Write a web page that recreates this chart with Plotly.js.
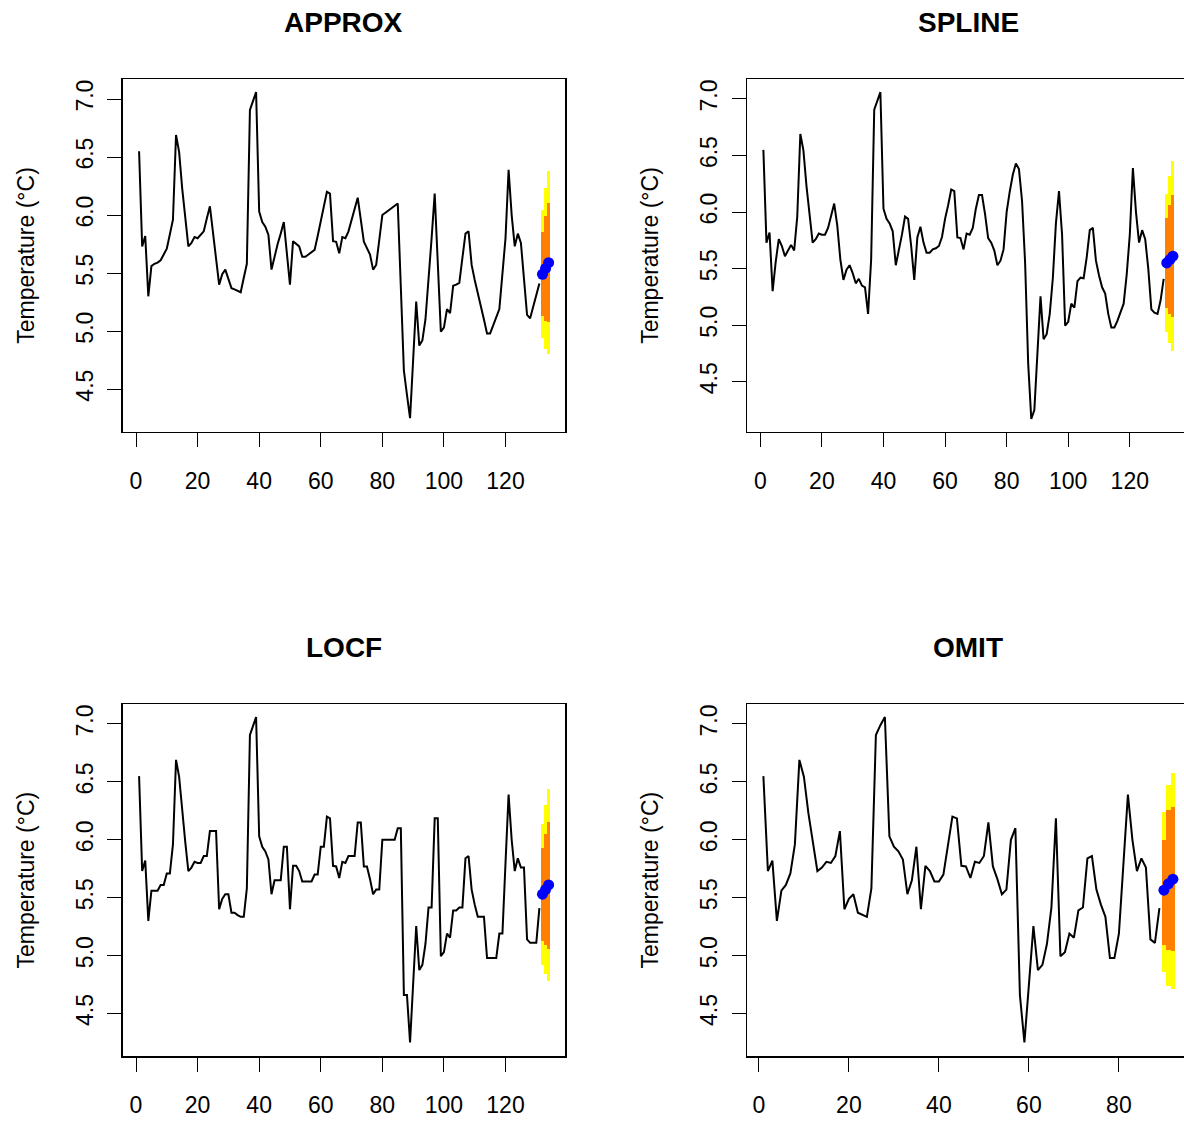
<!DOCTYPE html>
<html><head><meta charset="utf-8">
<script src="https://cdn.plot.ly/plotly-3.0.1.min.js"></script>
<style>html,body{margin:0;padding:0;overflow:hidden;background:#fff}#chart{width:1260px;height:1123px}</style>
</head><body><div id="chart"></div>
<script>
// ---- data ----
const panelTitles = ["APPROX", "SPLINE", "LOCF", "OMIT"];
const yTickVals = [4.5, 5.0, 5.5, 6.0, 6.5, 7.0];
const xTickVals = [0, 20, 40, 60, 80, 100, 120];
const xTickValsOmit = [0, 20, 40, 60, 80];

const approxV = [6.55,5.73,5.82,5.30,5.56,5.58,5.59,5.61,5.66,5.71,
 5.835,5.96,6.69,6.545,6.23,5.98,5.73,5.76,5.81,5.80,
 5.83,5.86,5.97,6.075,5.85,5.625,5.40,5.49,5.53,5.45,
 5.37,5.36,5.35,5.335,5.46,5.58,6.905,6.99,7.06,6.03,
 5.94,5.90,5.83,5.53,5.65,5.75,5.84,5.94,5.67,5.40,
 5.775,5.75,5.73,5.64,5.64,5.66,5.68,5.70,5.82,5.94,
 6.07,6.20,6.185,5.775,5.77,5.67,5.81,5.80,5.86,5.96,
 6.05,6.15,5.96,5.77,5.715,5.66,5.53,5.57,5.785,6.00,
 6.02,6.04,6.06,6.08,6.10,5.38,4.66,4.45,4.25,4.75,
 5.255,4.875,4.92,5.10,5.415,5.80,6.185,5.59,4.995,5.03,
 5.19,5.155,5.39,5.40,5.415,5.63,5.84,5.86,5.57,5.44,
 5.335,5.22,5.10,4.98,4.98,5.05,5.12,5.19,5.495,5.80,
 6.39,6.00,5.73,5.84,5.76,5.45,5.14,5.11,5.21,5.31,
 5.41];

const splineV = [6.55,5.73,5.82,5.30,5.56,5.76,5.70,5.61,5.66,5.71,
 5.66,5.96,6.69,6.545,6.23,5.98,5.73,5.76,5.81,5.80,
 5.80,5.86,5.97,6.075,5.88,5.58,5.40,5.49,5.53,5.46,
 5.37,5.41,5.35,5.335,5.10,5.58,6.905,6.99,7.06,6.03,
 5.94,5.90,5.83,5.53,5.65,5.80,5.96,5.94,5.70,5.40,
 5.775,5.87,5.73,5.64,5.64,5.67,5.68,5.70,5.78,5.94,
 6.06,6.20,6.185,5.775,5.77,5.67,5.81,5.80,5.86,6.03,
 6.15,6.15,5.98,5.77,5.73,5.66,5.53,5.57,5.67,6.00,
 6.18,6.33,6.43,6.38,6.10,5.55,4.66,4.17,4.25,4.75,
 5.255,4.875,4.92,5.10,5.415,5.90,6.185,5.80,4.995,5.03,
 5.19,5.155,5.39,5.42,5.415,5.60,5.84,5.86,5.57,5.44,
 5.335,5.28,5.10,4.98,4.98,5.04,5.12,5.19,5.45,5.80,
 6.39,6.00,5.73,5.84,5.76,5.50,5.14,5.11,5.10,5.22,
 5.41];

const locfV = [6.55,5.73,5.82,5.30,5.56,5.56,5.56,5.61,5.61,5.71,
 5.71,5.96,6.69,6.545,6.23,5.98,5.73,5.76,5.81,5.80,
 5.80,5.86,5.86,6.075,6.075,6.075,5.40,5.49,5.53,5.53,
 5.37,5.37,5.35,5.335,5.335,5.58,6.905,6.99,7.06,6.03,
 5.94,5.90,5.83,5.53,5.65,5.65,5.65,5.94,5.94,5.40,
 5.775,5.775,5.73,5.64,5.64,5.64,5.64,5.70,5.70,5.94,
 5.94,6.20,6.185,5.775,5.77,5.67,5.81,5.80,5.86,5.86,
 5.86,6.15,6.15,5.77,5.77,5.66,5.53,5.57,5.57,6.00,
 6.00,6.00,6.00,6.00,6.10,6.10,4.66,4.66,4.25,4.75,
 5.255,4.875,4.92,5.10,5.415,5.415,6.185,6.185,4.995,5.03,
 5.19,5.155,5.39,5.39,5.415,5.415,5.84,5.86,5.57,5.44,
 5.335,5.335,5.335,4.98,4.98,4.98,4.98,5.19,5.19,5.80,
 6.39,6.00,5.73,5.84,5.76,5.76,5.14,5.11,5.11,5.11,
 5.41];

const omitV = [6.55,5.73,5.82,5.30,5.56,5.61,5.71,5.96,6.69,6.545,
 6.23,5.98,5.73,5.76,5.81,5.80,5.86,6.075,5.40,5.49,
 5.53,5.37,5.35,5.335,5.58,6.905,6.99,7.06,6.03,5.94,
 5.90,5.83,5.53,5.65,5.94,5.40,5.775,5.73,5.64,5.64,
 5.70,5.94,6.20,6.185,5.775,5.77,5.67,5.81,5.80,5.86,
 6.15,5.77,5.66,5.53,5.57,6.00,6.10,4.66,4.25,4.75,
 5.255,4.875,4.92,5.10,5.415,6.185,4.995,5.03,5.19,5.155,
 5.39,5.415,5.84,5.86,5.57,5.44,5.335,4.98,4.98,5.19,
 5.80,6.39,6.00,5.73,5.84,5.76,5.14,5.11,5.41];

// forecasts (3 steps ahead): mean, 80% and 95% limits
const approxMean = [5.49, 5.54, 5.59];
const approxLo80 = [5.13, 5.09, 5.08], approxHi80 = [5.85, 5.99, 6.10];
const approxLo95 = [4.94, 4.85, 4.80], approxHi95 = [6.04, 6.23, 6.38];

const splineMean = [5.55, 5.58, 5.61];
const splineLo80 = [5.15, 5.10, 5.07], splineHi80 = [5.95, 6.06, 6.15];
const splineLo95 = [4.94, 4.84, 4.77], splineHi95 = [6.16, 6.32, 6.45];

const locfMean = [5.53, 5.57, 5.61];
const locfLo80 = [5.13, 5.09, 5.06], locfHi80 = [5.93, 6.05, 6.15];
const locfLo95 = [4.92, 4.84, 4.78], locfHi95 = [6.14, 6.30, 6.44];

const omitMean = [5.565, 5.62, 5.66];
const omitLo80 = [5.09, 5.05, 5.04], omitHi80 = [6.00, 6.26, 6.28];
const omitLo95 = [4.86, 4.74, 4.71], omitHi95 = [6.24, 6.47, 6.58];

// ---- layout geometry (pixels of the 1184x1123 view) ----
const W = 1260, H = 1123;
const boxes = [
  {l:122.7, r:565,    t:79.3,  b:431.7, yr:[4.133, 7.170]},
  {l:747,   r:1189.3, t:79.3,  b:431.7, yr:[4.058, 7.174]},
  {l:122.7, r:565,    t:704.3, b:1056,  yr:[4.133, 7.170]},
  {l:747,   r:1189.3, t:704.3, b:1056,  yr:[4.133, 7.170]}
];

const series = [
  {v:approxV, m:approxMean, lo80:approxLo80, hi80:approxHi80, lo95:approxLo95, hi95:approxHi95, ticks:xTickVals},
  {v:splineV, m:splineMean, lo80:splineLo80, hi80:splineHi80, lo95:splineLo95, hi95:splineHi95, ticks:xTickVals},
  {v:locfV,   m:locfMean,   lo80:locfLo80,   hi80:locfHi80,   lo95:locfLo95,   hi95:locfHi95,   ticks:xTickVals},
  {v:omitV,   m:omitMean,   lo80:omitLo80,   hi80:omitHi80,   lo95:omitLo95,   hi95:omitHi95,   ticks:xTickValsOmit}
];

const FONT = "Liberation Sans, Arial, Helvetica, sans-serif";
const traces = [];
const layout = {
  width: W, height: H, margin: {l:0, r:0, t:0, b:0},
  paper_bgcolor: "#fff", plot_bgcolor: "#fff",
  showlegend: false, barmode: "overlay", bargap: 0,
  font: {family: FONT, color: "#000", size: 23},
  annotations: []
};

series.forEach((s, i) => {
  const k = i === 0 ? "" : String(i + 1);
  const xa = "x" + k, ya = "y" + k;
  const n = s.v.length;
  const t = s.v.map((_, j) => j + 1);
  const ft = s.m.map((_, j) => n + j + 1);
  // x range as R does: data range extended by 4%
  const d = ft[ft.length - 1] - 1;
  const xr = [1 - 0.04 * d, ft[ft.length - 1] + 0.04 * d];

  traces.push({type:"scatter", mode:"lines", x:t, y:s.v, xaxis:xa, yaxis:ya,
    line:{color:"#000", width:2}, hoverinfo:"skip"});
  traces.push({type:"bar", x:ft, base:s.lo95, y:s.hi95.map((h, j) => h - s.lo95[j]), width:1,
    xaxis:xa, yaxis:ya, marker:{color:"#FFFF00", line:{width:0}}, hoverinfo:"skip"});
  traces.push({type:"bar", x:ft, base:s.lo80, y:s.hi80.map((h, j) => h - s.lo80[j]), width:1,
    xaxis:xa, yaxis:ya, marker:{color:"#FF8000", line:{width:0}}, hoverinfo:"skip"});
  traces.push({type:"scatter", mode:"lines+markers", x:ft, y:s.m, xaxis:xa, yaxis:ya,
    line:{color:"#0000FF", width:3}, marker:{color:"#0000FF", size:11}, hoverinfo:"skip"});

  const b = boxes[i];
  layout["xaxis" + k] = {
    domain:[b.l / W, b.r / W], range:xr, anchor:ya,
    tickmode:"array", tickvals:s.ticks, ticks:"outside", ticklen:14, tickwidth:1, tickcolor:"#000",
    showline:true, mirror:true, linecolor:"#000", linewidth:1.5,
    showgrid:false, zeroline:false, fixedrange:true,
    tickfont:{family:FONT, size:23, color:"#000"}, ticklabelstandoff:14
  };
  layout["yaxis" + k] = {
    domain:[1 - b.b / H, 1 - b.t / H], range:b.yr, anchor:xa,
    tickmode:"array", tickvals:yTickVals, tickformat:".1f", tickangle:-90,
    ticks:"outside", ticklen:14, tickwidth:1, tickcolor:"#000",
    showline:true, mirror:true, linecolor:"#000", linewidth:1.5,
    showgrid:false, zeroline:false, fixedrange:true,
    tickfont:{family:FONT, size:23, color:"#000"}, ticklabelstandoff:5,
    title:{text:"Temperature (°C)", font:{family:FONT, size:23, color:"#000"}, standoff:31}
  };
  layout.annotations.push({
    text:"<b>" + panelTitles[i] + "</b>", xref:"paper", yref:"paper",
    x:(b.l + b.r) / 2 / W, y:1 - (b.t - 57) / H, xanchor:"center", yanchor:"middle",
    showarrow:false, font:{family:FONT, size:28, color:"#000"}
  });
});

Plotly.newPlot("chart", traces, layout, {staticPlot:true, displayModeBar:false});
</script>
</body></html>
